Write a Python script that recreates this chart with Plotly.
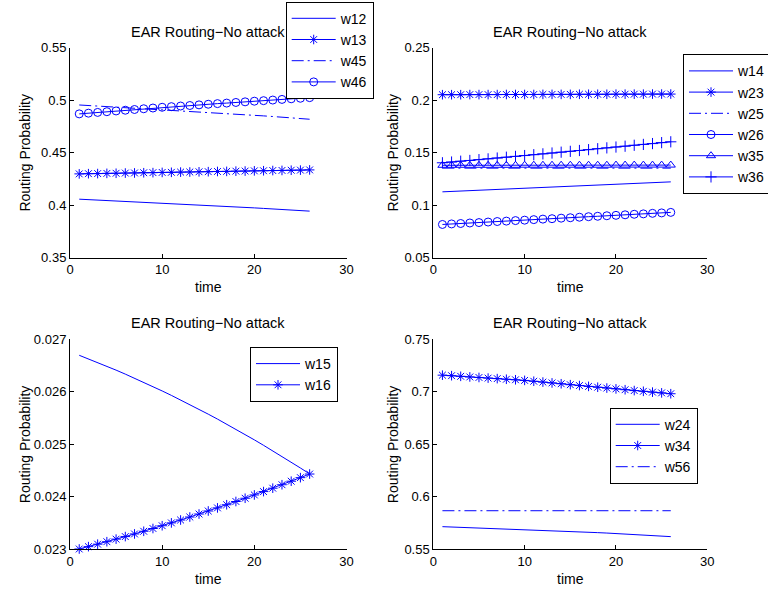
import plotly.graph_objects as go

# ---------------- data ----------------
t = list(range(1, 27))

# top-left
w12 = [.4056, .4052, .4048, .4044, .4040, .4036, .4032, .4028, .4024, .4020, .4016, .4011, .4007,
       .4002, .3997, .3993, .3988, .3983, .3978, .3973, .3968, .3963, .3958, .3953, .3947, .3942]
w13 = [.4297, .4299, .4300, .4302, .4303, .4305, .4306, .4308, .4309, .4311, .4312, .4314, .4315,
       .4317, .4318, .4320, .4321, .4323, .4324, .4326, .4327, .4329, .4330, .4332, .4333, .4335]
w45 = [.4954, .4949, .4945, .4940, .4936, .4931, .4926, .4921, .4916, .4911, .4906, .4901, .4896,
       .4890, .4885, .4879, .4874, .4868, .4862, .4856, .4850, .4844, .4838, .4831, .4825, .4818]
w46 = [.4869, .4876, .4883, .4890, .4897, .4904, .4911, .4918, .4925, .4932, .4938, .4944, .4949,
       .4955, .4961, .4967, .4972, .4978, .4984, .4990, .4995, .5001, .5007, .5013, .5018, .5024]

# top-right
w14 = [.1126, .1130, .1134, .1137, .1141, .1145, .1149, .1153, .1156, .1160, .1164, .1168, .1172,
       .1175, .1179, .1183, .1187, .1191, .1194, .1198, .1202, .1206, .1210, .1213, .1217, .1221]
w23 = [.2052, .2052, .2052, .2053, .2053, .2053, .2053, .2054, .2054, .2054, .2054, .2055, .2055,
       .2055, .2055, .2056, .2056, .2056, .2056, .2057, .2057, .2057, .2057, .2058, .2058, .2058]
w25 = [.1352, .1352, .1352, .1352, .1352, .1352, .1352, .1352, .1352, .1352, .1352, .1352, .1352,
       .1352, .1352, .1352, .1352, .1352, .1352, .1352, .1352, .1352, .1352, .1352, .1352, .1352]
w26 = [.0815, .0820, .0824, .0829, .0833, .0838, .0843, .0847, .0852, .0856, .0861, .0866, .0870,
       .0875, .0879, .0884, .0889, .0893, .0898, .0902, .0907, .0912, .0916, .0921, .0925, .0930]
w35 = [.1379, .1379, .1379, .1379, .1379, .1379, .1379, .1379, .1379, .1380, .1380, .1380, .1380,
       .1380, .1380, .1380, .1380, .1380, .1380, .1381, .1381, .1381, .1381, .1381, .1381, .1381]
w36 = [.1403, .1410, .1418, .1425, .1433, .1440, .1448, .1456, .1464, .1472, .1480, .1488, .1496,
       .1504, .1512, .1520, .1528, .1537, .1545, .1553, .1561, .1570, .1578, .1586, .1595, .1603]

# bottom-left
w15 = [.026695, .026627, .026557, .026485, .026412, .026336, .026259, .026180, .026098, .026015,
       .025930, .025844, .025755, .025664, .025572, .025478, .025382, .025284, .025184, .025082,
       .024978, .024873, .024765, .024656, .024545, .024432]
w16 = [.023000, .023045, .023092, .023139, .023188, .023237, .023287, .023338, .023391, .023444,
       .023498, .023553, .023610, .023667, .023725, .023784, .023844, .023906, .023968, .024031,
       .024095, .024160, .024226, .024293, .024361, .024430]

# bottom-right
w24 = [.5713, .5710, .5707, .5704, .5701, .5698, .5695, .5692, .5689, .5686, .5682, .5679, .5675,
       .5672, .5668, .5664, .5660, .5656, .5652, .5648, .5644, .5639, .5634, .5629, .5624, .5618]
w34 = [.7158, .7153, .7147, .7141, .7136, .7130, .7125, .7119, .7114, .7108, .7100, .7092, .7084,
       .7076, .7067, .7059, .7051, .7043, .7035, .7027, .7019, .7011, .7004, .6996, .6989, .6981]
w56 = [.5865, .5865, .5865, .5865, .5865, .5865, .5865, .5865, .5865, .5865, .5865, .5865, .5865,
       .5865, .5865, .5865, .5865, .5865, .5865, .5865, .5865, .5865, .5865, .5865, .5865, .5865]

title_text = "EAR Routing\u2212No attack"
xlabel = "time"
ylabel = "Routing Probability"
x_ticks = [0, 10, 20, 30]
y_ticks = [
    [0.35, 0.4, 0.45, 0.5, 0.55],
    [0.05, 0.1, 0.15, 0.2, 0.25],
    [0.023, 0.024, 0.025, 0.026, 0.027],
    [0.55, 0.6, 0.65, 0.7, 0.75],
]
y_tick_text = [
    ["0.35", "0.4", "0.45", "0.5", "0.55"],
    ["0.05", "0.1", "0.15", "0.2", "0.25"],
    ["0.023", "0.024", "0.025", "0.026", "0.027"],
    ["0.55", "0.6", "0.65", "0.7", "0.75"],
]

# ---------------- styling ----------------
BLUE = "#0000ff"
FONT = "Liberation Sans, Arial, Helvetica, sans-serif"
DASHDOT = "12px,4px,2px,4px"

panels = [
    ([("w12", w12, None, None), ("w13", w13, "asterisk-open", None),
      ("w45", w45, None, DASHDOT), ("w46", w46, "circle-open", None)], "legend"),
    ([("w14", w14, None, None), ("w23", w23, "asterisk-open", None),
      ("w25", w25, None, DASHDOT), ("w26", w26, "circle-open", None),
      ("w35", w35, "triangle-up-open", None), ("w36", w36, "cross-thin-open", None)], "legend2"),
    ([("w15", w15, None, None), ("w16", w16, "asterisk-open", None)], "legend3"),
    ([("w24", w24, None, None), ("w34", w34, "asterisk-open", None),
      ("w56", w56, None, DASHDOT)], "legend4"),
]

W, H = 768, 592
xdoms = [[70 / W, 346.5 / W], [433.3 / W, 707.3 / W]]
ydoms = [[1 - 257.5 / H, 1 - 47.7 / H], [1 - 549 / H, 1 - 339.3 / H]]

fig = go.Figure()
for i, (series, leg) in enumerate(panels):
    sfx = "" if i == 0 else str(i + 1)
    for name, vals, sym, dash in series:
        mode = "lines+markers" if sym else "lines"
        fig.add_trace(go.Scatter(
            x=t, y=vals, name=name, mode=mode,
            line=dict(color=BLUE, width=1, dash=dash if dash else "solid"),
            marker=dict(symbol=sym, size=8, color=BLUE, line=dict(width=1, color=BLUE)) if sym else None,
            xaxis="x" + sfx, yaxis="y" + sfx, legend=leg, cliponaxis=False,
        ))

layout = dict(
    width=W, height=H,
    margin=dict(l=0, r=0, t=0, b=0, autoexpand=False),
    paper_bgcolor="white", plot_bgcolor="white",
    font=dict(family=FONT, size=13, color="black"),
    showlegend=True,
)
annotations = []
for i in range(4):
    sfx = "" if i == 0 else str(i + 1)
    col = i % 2
    row = i // 2
    xd = xdoms[col]
    yd = ydoms[0] if row == 0 else ydoms[1]
    axis_common = dict(showline=True, linecolor="black", linewidth=1, mirror=False,
                       ticks="inside", ticklen=4, tickcolor="black", tickwidth=1,
                       showgrid=False, zeroline=False,
                       tickfont=dict(family=FONT, size=13, color="black"))
    layout["xaxis" + sfx] = dict(domain=xd, anchor="y" + sfx, range=[0, 30],
                                 tickvals=x_ticks, **axis_common)
    yr = y_ticks[i]
    layout["yaxis" + sfx] = dict(domain=yd, anchor="x" + sfx, range=[yr[0], yr[-1]],
                                 tickvals=yr, ticktext=y_tick_text[i], **axis_common)
    xc = (xd[0] + xd[1]) / 2
    title_y = 1 - (31.7 / H) if row == 0 else 1 - (322.7 / H)
    xl_y = 1 - (286.7 / H) if row == 0 else 1 - (579.3 / H)
    yl_x = 25 / W if col == 0 else 393 / W
    yc = (yd[0] + yd[1]) / 2
    annotations.append(dict(text=title_text, x=xc, y=title_y, xref="paper", yref="paper",
                            xanchor="center", yanchor="middle", showarrow=False,
                            font=dict(family=FONT, size=14.5, color="black")))
    annotations.append(dict(text=xlabel, x=xc, y=xl_y, xref="paper", yref="paper",
                            xanchor="center", yanchor="middle", showarrow=False,
                            font=dict(family=FONT, size=14, color="black")))
    annotations.append(dict(text=ylabel, x=yl_x, y=yc, xref="paper", yref="paper",
                            xanchor="center", yanchor="middle", showarrow=False, textangle=-90,
                            font=dict(family=FONT, size=14, color="black")))
layout["annotations"] = annotations

leg_common = dict(bgcolor="white", bordercolor="black", borderwidth=1, itemwidth=44,
                  font=dict(family=FONT, size=14, color="black"),
                  xanchor="left", yanchor="top", xref="paper", yref="paper")
layout["legend"] = dict(x=285.7 / W, y=1 - 1.7 / H, **leg_common)
layout["legend2"] = dict(x=683 / W, y=1 - 54.3 / H, **leg_common)
layout["legend3"] = dict(x=250 / W, y=1 - 347 / H, **leg_common)
layout["legend4"] = dict(x=609.7 / W, y=1 - 407.7 / H, **leg_common)

fig.update_layout(**layout)
fig.write_html("out.html", config={"displayModeBar": False})
